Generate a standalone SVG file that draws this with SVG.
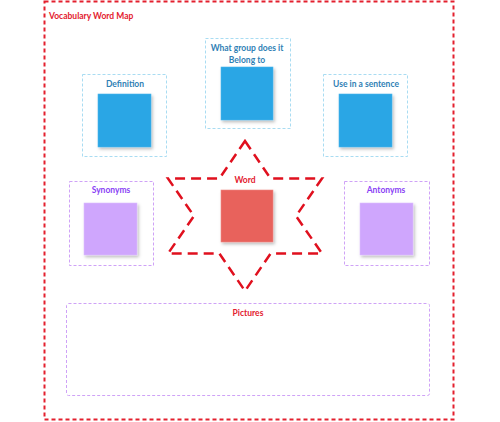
<svg xmlns="http://www.w3.org/2000/svg" width="500" height="422" viewBox="0 0 500 422">
<style>
.lbl{font-family:Lato,"Open Sans",sans-serif;font-weight:bold;font-size:8.5px;text-anchor:middle}
.blue{fill:#2f7fb5}
.purp{fill:#8a3ff5}
.red{fill:#e3202e}
.bbox{fill:none;stroke:#a9dcf2;stroke-width:1;stroke-dasharray:3 2}
.pbox{fill:none;stroke:#cfa2f7;stroke-width:1;stroke-dasharray:3 2}
.bsq{fill:#29a6e5;stroke:#4db6ec;stroke-width:0.6;filter:url(#sh)}
.psq{fill:#cfa6fd;stroke:#dcbffd;stroke-width:0.6;filter:url(#sh)}
.rsq{fill:#e8625c;stroke:#ee8a85;stroke-width:0.6;filter:url(#sh)}
</style>
<defs>
<filter id="sh" x="-20%" y="-20%" width="150%" height="150%">
<feDropShadow dx="1.5" dy="2" stdDeviation="1.5" flood-color="#000" flood-opacity="0.25"/>
</filter>
</defs>
<rect width="500" height="422" fill="#fff"/>
<g id="frame">
<rect x="44.5" y="1.5" width="409" height="418" fill="none" stroke="#e3202e" stroke-width="2" stroke-dasharray="4 3"/>
<text x="49" y="19" class="lbl red" style="text-anchor:start">Vocabulary Word Map</text>
</g>
<g id="definition">
<rect x="82.5" y="74.5" width="84" height="82" class="bbox"/>
<text x="125" y="87" class="lbl blue">Definition</text>
<rect x="98" y="94" width="53" height="53" class="bsq"/>
</g>
<g id="group">
<rect x="205.5" y="38.5" width="85" height="90" class="bbox"/>
<text x="247" y="51" class="lbl blue">What group does it</text>
<text x="247" y="63" class="lbl blue">Belong to</text>
<rect x="221" y="67" width="52" height="53" class="bsq"/>
</g>
<g id="sentence">
<rect x="323.5" y="74.5" width="84" height="82" class="bbox"/>
<text x="366" y="87" class="lbl blue">Use in a sentence</text>
<rect x="339" y="94" width="53" height="53" class="bsq"/>
</g>
<g id="word">
<polygon points="245,141 270.6,178.5 322,178.5 296,216 322,253.5 270.6,253.5 245,291 219.4,253.5 168,253.5 194,216 168,178.5 219.4,178.5" fill="none" stroke="#e0101e" stroke-width="2.5" stroke-dasharray="10 6"/>
<text x="245" y="183" class="lbl red">Word</text>
<rect x="221" y="190" width="52" height="52" class="rsq"/>
</g>
<g id="synonyms">
<rect x="69.5" y="181.5" width="84" height="84" class="pbox"/>
<text x="111" y="193" class="lbl purp">Synonyms</text>
<rect x="84" y="203" width="53" height="52" class="psq"/>
</g>
<g id="antonyms">
<rect x="344.5" y="181.5" width="85" height="84" class="pbox"/>
<text x="386" y="193" class="lbl purp">Antonyms</text>
<rect x="360" y="203" width="53" height="52" class="psq"/>
</g>
<g id="pictures">
<rect x="66.5" y="303.5" width="363" height="92" rx="2" class="pbox"/>
<text x="248" y="316" class="lbl red">Pictures</text>
</g>
<g id="connectors"></g>
</svg>
